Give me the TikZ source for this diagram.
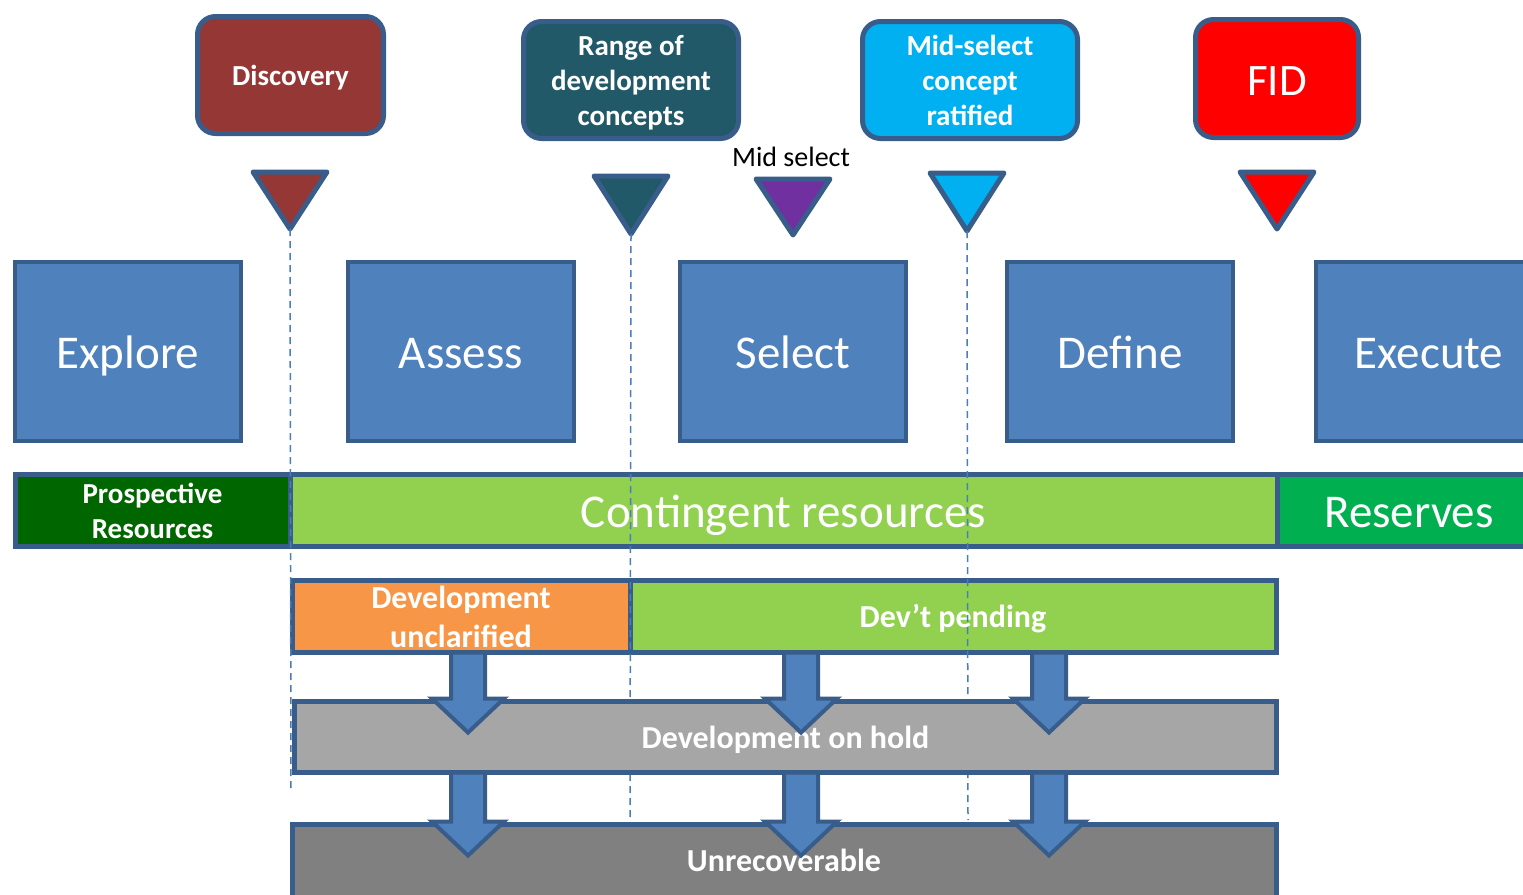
\documentclass[tikz,border=0pt]{standalone}
\usepackage{fontspec}
\setmainfont{Carlito}
\usetikzlibrary{calc}
\definecolor{cedge}{HTML}{385D8A}
\definecolor{cphase}{HTML}{4F81BD}
\definecolor{cdisc}{HTML}{953735}
\definecolor{crange}{HTML}{215968}
\definecolor{cmidsel}{HTML}{00B0F0}
\definecolor{cfid}{HTML}{FF0000}
\definecolor{cpurp}{HTML}{7030A0}
\definecolor{cprosp}{HTML}{006600}
\definecolor{ccont}{HTML}{92D050}
\definecolor{cresv}{HTML}{00B050}
\definecolor{cuncl}{HTML}{F79646}
\definecolor{chold}{HTML}{A6A6A6}
\definecolor{cunrec}{HTML}{808080}
\definecolor{cdashl}{HTML}{4A7EBB}
\newcommand\blkarrow[3]{%
  \coordinate (s) at (#1 |- #2.south);
  \coordinate (e) at ($(#1 |- #3.north)+(0,-3)$);
  \draw[blockarrow] ($(s)+(-17,0)$) -- ($(e)+(-17,0)$) -- ($(e)+(-36,0)$)
    -- ($(e)+(0,34)$) -- ($(e)+(36,0)$) -- ($(e)+(17,0)$) -- ($(s)+(17,0)$) -- cycle;
}
\begin{document}
\begin{tikzpicture}[x=1pt,y=-1pt,
  every node/.style={inner sep=0pt, outer sep=0pt, text=white, align=center},
  bigtext/.style={font=\fontsize{47}{56}\selectfont, text height=33pt, text depth=0pt},
  milestone/.style={draw=cedge, line width=5pt, rounded corners=18pt,
    minimum height=117pt, font=\fontsize{29}{35}\selectfont\bfseries},
  phasebox/.style={draw=cedge, fill=cphase, line width=4pt, minimum width=226pt,
    minimum height=179pt, bigtext},
  barbox/.style={draw=cedge, line width=5pt, minimum height=72pt},
  boldtext/.style={font=\fontsize{29}{35}\selectfont\bfseries},
  devtext/.style={font=\fontsize{32}{39}\selectfont\bfseries},
  devline/.style={devtext, text height=22.6pt, text depth=0pt},
  marker/.style={draw=cedge, line width=5pt, line join=round},
  dashline/.style={draw=cdashl, line width=1.5pt, dash pattern=on 7pt off 5pt},
  blockarrow/.style={draw=cedge, fill=cphase, line width=4pt, line join=miter}]
\useasboundingbox (0,0) rectangle (1523,894);
\clip (0,0) rectangle (1523,894);

% phases
\node[phasebox] (explore) at (128,351.5) {Explore};
\node[phasebox] (assess)  at (461,351.5) {Assess};
\node[phasebox] (select)  at (793,351.5) {Select};
\node[phasebox] (define)  at (1120,351.5) {Define};
\node[phasebox] (execute) at (1429,351.5) {Execute};

% milestone boxes
\node[milestone, fill=cdisc, minimum width=186pt, text height=20.6pt, text depth=0pt] (disc) at (290.5,75) {Discovery};
\node[milestone, fill=crange, minimum width=215pt] (range) at (631,80) {Range of\\development\\\smash{concepts}};
\node[milestone, fill=cmidsel, minimum width=215pt] (midsel) at (970,80) {Mid-select\\concept\\ratified};
\node[milestone, fill=cfid, minimum width=163pt, minimum height=118pt,
  font=\fontsize{45}{54}\selectfont, text height=34pt, text depth=0pt] (fid) at (1277,78.5) {FID};
\node[text=black, font=\fontsize{28}{34}\selectfont] (mslabel) at (791,157) {Mid select};

% triangles
\coordinate (tp1) at (290,229);
\coordinate (tp2) at (631,234);
\coordinate (tp3) at (793,235);
\coordinate (tp4) at (967,231);
\coordinate (tp5) at (1277,229);
\draw[marker, fill=cdisc]   (253,172) -- (327,172) -- (tp1) -- cycle;
\draw[marker, fill=crange]  (594,176) -- (668,176) -- (tp2) -- cycle;
\draw[marker, fill=cpurp]   (756,179) -- (830,179) -- (tp3) -- cycle;
\draw[marker, fill=cmidsel] (930,173) -- (1004,173) -- (tp4) -- cycle;
\draw[marker, fill=cfid]    (1240,172) -- (1314,172) -- (tp5) -- cycle;

% resource bar
\node[barbox, fill=cprosp, minimum width=275pt, boldtext] (prosp) at (152.5,510.5) {Prospective\\Resources};
\node[barbox, fill=ccont, minimum width=987pt, bigtext] (cont) at (783.5,510.5) {Contingent resources};
\node[barbox, fill=cresv, minimum width=268pt] (resv) at (1411,510.5) {};
\node[bigtext] (resvtxt) at (1409,510.5) {Reserves};

% development row
\node[barbox, fill=cuncl, minimum width=338pt, devtext] (uncl) at (461,616.5) {Development\\unclarified};
\node[barbox, fill=ccont, minimum width=646pt, devline] (pend) at (953,616.5) {Dev’t pending};

% dashed milestone lines
\coordinate (de1) at (291,790);
\coordinate (de2) at (630,817);
\coordinate (de3) at (968,820);
\draw[dashline] (tp1) -- (de1);
\draw[dashline] (tp2) -- (de2);
\draw[dashline] (tp4) -- (de3);

% hold and unrecoverable
\node[barbox, fill=chold, minimum width=982pt, minimum height=71pt, devline] (hold) at (785.5,737) {Development on hold};
\node[barbox, fill=cunrec, minimum width=984pt, minimum height=76pt] (unrec) at (784.5,862.5) {};
\node[devline] (unrectxt) at (784,860) {Unrecoverable};

% block arrows
\coordinate (ax1) at (468,0);
\coordinate (ax2) at (801,0);
\coordinate (ax3) at (1049,0);
\blkarrow{ax1}{uncl}{hold}
\blkarrow{ax2}{pend}{hold}
\blkarrow{ax3}{pend}{hold}
\blkarrow{ax1}{hold}{unrec}
\blkarrow{ax2}{hold}{unrec}
\blkarrow{ax3}{hold}{unrec}
\end{tikzpicture}
\end{document}
